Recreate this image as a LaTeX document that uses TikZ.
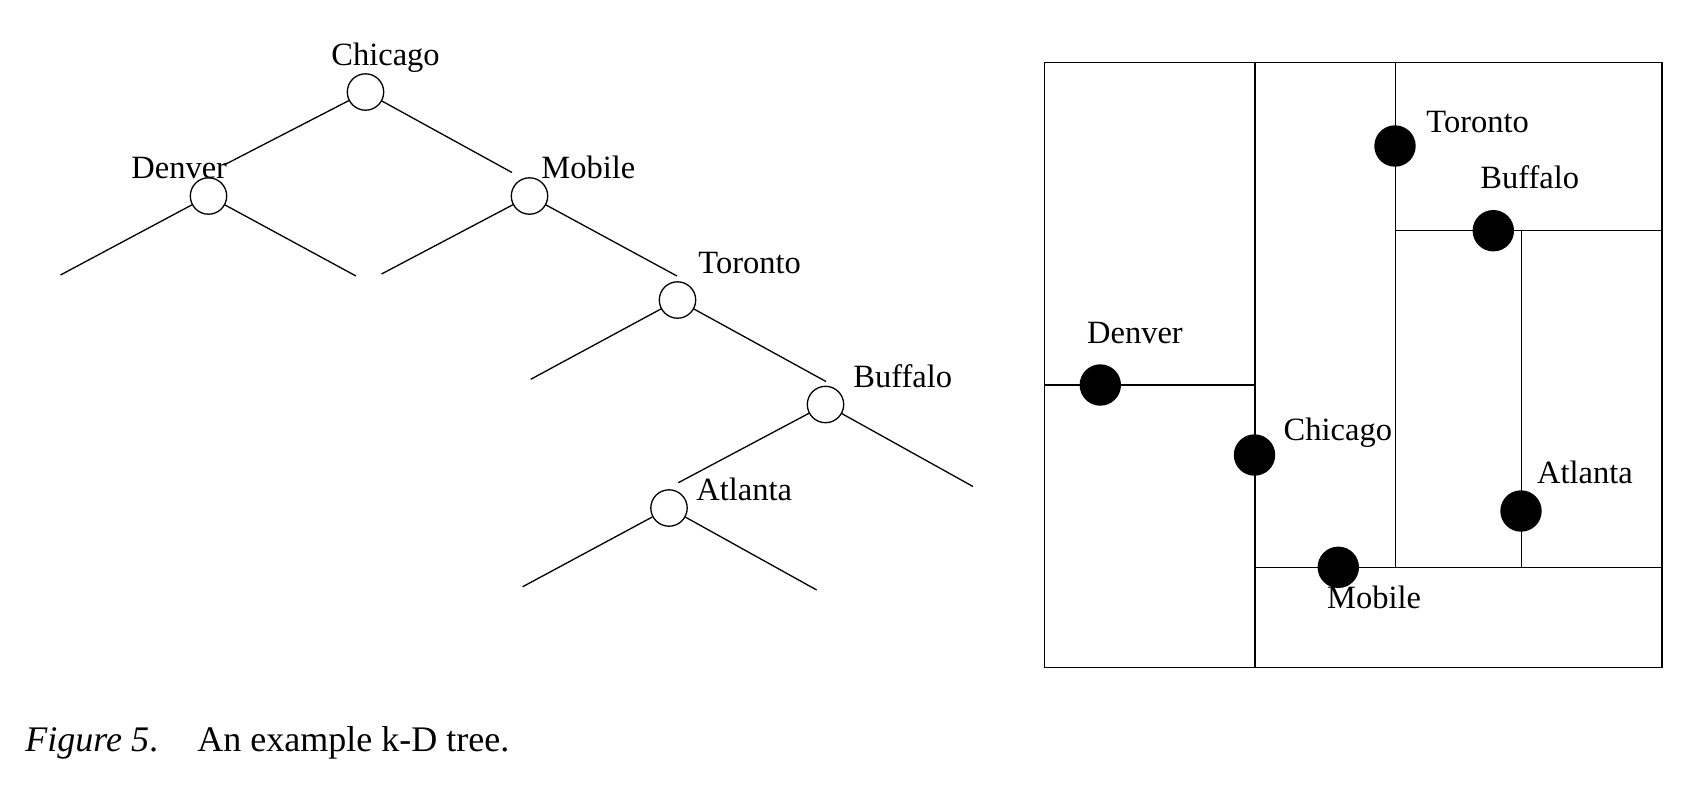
\documentclass[tikz,border=0pt]{standalone}
\usepackage{fontspec}
\setmainfont{Liberation Serif}
\begin{document}
\begin{tikzpicture}[x=0.5pt,y=-0.5pt,
  tnode/.style={circle,draw,line width=0.65pt,minimum size=18.2pt,inner sep=0pt},
  pdot/.style={circle,fill=black,minimum size=20.7pt,inner sep=0pt},
  lbl/.style={anchor=base west,inner sep=0pt,font=\fontsize{16.25}{19}\selectfont},
  captxt/.style={anchor=base west,inner sep=0pt,font=\fontsize{18}{21}\selectfont},
  treeline/.style={line width=0.65pt},
  splitline/.style={line width=0.55pt},
  outerframe/.style={line width=0.8pt}]
\useasboundingbox (0,0) rectangle (1698,784);

% ---------------- tree ----------------
\node[tnode] (tC) at (365.5,92) {};
\node[tnode] (tD) at (208.5,196) {};
\node[tnode] (tM) at (529.5,196) {};
\node[tnode] (tT) at (677.5,300) {};
\node[tnode] (tB) at (825.5,404.5) {};
\node[tnode] (tA) at (669,508) {};

\node[lbl] (lC) at (331,65) {Chicago};
\node[lbl] (lD) at (131,178) {Denver};
\node[lbl] (lM) at (541,178) {Mobile};
\node[lbl] (lT) at (698,273) {Toronto};
\node[lbl] (lB) at (853,387) {Buffalo};
\node[lbl] (lA) at (696,500.5) {Atlanta};

\coordinate (eCl) at (224,165);
\coordinate (eCr) at (512,172.5);
\coordinate (eDl) at (60.5,275);
\coordinate (eDr) at (356,276);
\coordinate (eMl) at (381.5,274);
\coordinate (eMr) at (677,276);
\coordinate (eTl) at (530.7,379.3);
\coordinate (eTr) at (826,381.5);
\coordinate (eBl) at (678.3,482.7);
\coordinate (eBr) at (973,486.5);
\coordinate (eAl) at (522.7,586.7);
\coordinate (eAr) at (816.7,590);

\draw[treeline] (tC) -- (eCl);
\draw[treeline] (tC) -- (eCr);
\draw[treeline] (tD) -- (eDl);
\draw[treeline] (tD) -- (eDr);
\draw[treeline] (tM) -- (eMl);
\draw[treeline] (tM) -- (eMr);
\draw[treeline] (tT) -- (eTl);
\draw[treeline] (tT) -- (eTr);
\draw[treeline] (tB) -- (eBl);
\draw[treeline] (tB) -- (eBr);
\draw[treeline] (tA) -- (eAl);
\draw[treeline] (tA) -- (eAr);

% ---------------- partition ----------------
\coordinate (fNW) at (1044.3,62.3);
\coordinate (fSE) at (1661.7,667.3);
\draw[splitline] (1255,62.3) -- (1255,667.3);
\draw[splitline] (1044.3,385) -- (1255,385);
\draw[splitline] (1395.3,62.3) -- (1395.3,567.3);
\draw[splitline] (1255,567.3) -- (1661.7,567.3);
\draw[splitline] (1395.3,230.7) -- (1661.7,230.7);
\draw[splitline] (1521.7,230.7) -- (1521.7,567.3);
\draw[outerframe] (fNW) rectangle (fSE);

\node[pdot] (pT) at (1395,146) {};
\node[pdot] (pB) at (1493.3,230.7) {};
\node[pdot] (pD) at (1100.3,385) {};
\node[pdot] (pC) at (1254.5,455) {};
\node[pdot] (pA) at (1521,511) {};
\node[pdot] (pM) at (1338.3,567.3) {};

\node[lbl] (qT) at (1426,132.3) {Toronto};
\node[lbl] (qB) at (1480,188.3) {Buffalo};
\node[lbl] (qD) at (1086.7,343.3) {Denver};
\node[lbl] (qC) at (1283.3,440) {Chicago};
\node[lbl] (qA) at (1536.7,483.3) {Atlanta};
\node[lbl] (qM) at (1326.7,608.3) {Mobile};

% ---------------- caption ----------------
\node[captxt] (cap1) at (25,751.5) {\textit{Figure 5}.};
\node[captxt] (cap2) at (197,751.5) {An example k-D tree.};
\end{tikzpicture}
\end{document}
